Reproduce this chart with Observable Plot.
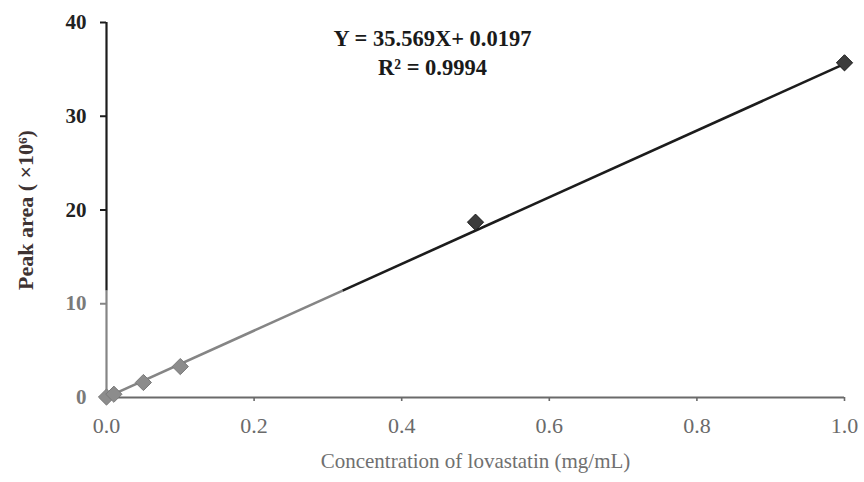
<!DOCTYPE html>
<html>
<head>
<meta charset="utf-8">
<script src="https://cdn.jsdelivr.net/npm/d3@7"></script>
<script src="https://cdn.jsdelivr.net/npm/@observablehq/plot@0.6"></script>
<style>
  html, body { margin: 0; padding: 0; background: #fff; }
</style>
</head>
<body>
<div id="chart"></div>
<script>
// Calibration data
const concentration = [0, 0.01, 0.05, 0.1, 0.5, 1.0];
const peakArea = [0.05, 0.35, 1.6, 3.3, 18.7, 35.7];

// Fitted line from the printed equation
const slope = 35.569;
const intercept = 0.0197;
const rSquared = 0.9994;

const xTicks = [0, 0.2, 0.4, 0.6, 0.8, 1.0];
const yTicks = [0, 10, 20, 30, 40];

// scan tone: lower band of the page is printed lighter
const toneBreak = 11.4;
const dark = "#1c1c1c";
const light = "#858585";

const points = concentration.map((c, i) => ({x: c, y: peakArea[i]}));
const xBreak = (toneBreak - intercept) / slope;
const fit = [
  {x1: 0, x2: xBreak, c: light},
  {x1: xBreak, x2: 1.0, c: dark}
].map(s => ({...s, y1: slope * s.x1 + intercept, y2: slope * s.x2 + intercept}));

const chart = Plot.plot({
  width: 864,
  height: 482,
  marginLeft: 106,
  marginRight: 20,
  marginTop: 22,
  marginBottom: 85,
  style: {fontFamily: "'Liberation Serif', serif", background: "#fff"},
  x: {type: "linear", domain: [0, 1], axis: null},
  y: {type: "linear", domain: [0, 40], axis: null},
  marks: [
    // y axis line
    Plot.ruleX([{y1: 0, y2: toneBreak, c: light}, {y1: toneBreak, y2: 40, c: dark}],
      {x: () => 0, y1: "y1", y2: "y2", stroke: "c", strokeWidth: 2.2}),
    // y ticks
    Plot.axisY(yTicks.filter(d => d >= toneBreak), {tickSize: 6, tickFormat: () => "", stroke: dark, strokeWidth: 2, label: null}),
    Plot.axisY(yTicks.filter(d => d < toneBreak), {tickSize: 6, tickFormat: () => "", stroke: light, strokeWidth: 2, label: null}),
    // x axis line
    Plot.ruleY([0], {stroke: "#6a6a6a", strokeWidth: 2.2}),
    // x ticks
    Plot.axisX(xTicks, {tickSize: 4, tickFormat: () => "", stroke: "#6a6a6a", strokeWidth: 1.6, label: null}),
    // y tick labels
    Plot.text(yTicks, {x: () => 0, y: d => d, text: d => String(d), textAnchor: "end", dx: -20,
      fill: d => (d >= toneBreak ? "#222" : "#7a7a7a"), fontSize: 21, fontWeight: "bold"}),
    // x tick labels
    Plot.text(xTicks, {x: d => d, y: () => 0, text: d => d.toFixed(1), dy: 28,
      fill: "#6a6a6a", fontSize: 22}),
    // fitted line
    Plot.link(fit, {x1: "x1", y1: "y1", x2: "x2", y2: "y2", stroke: "c", strokeWidth: 2.6}),
    // data points
    Plot.dot(points, {x: "x", y: "y", symbol: "diamond2", r: 7.3,
      fill: d => (d.y >= toneBreak ? "#3c3c3c" : "#8c8c8c"),
      stroke: d => (d.y >= toneBreak ? "#1a1a1a" : "#7a7a7a"), strokeWidth: 1}),
    // equation
    Plot.text([`Y = ${slope}X+ ${intercept}\nR² = ${rSquared}`], {
      frameAnchor: "top", dx: -43, dy: 28.5, lineAnchor: "middle", lineHeight: 1.29,
      text: d => d, fontSize: 22.5, fontWeight: "bold", fill: "#1a1a1a"}),
    // y label
    Plot.text(["Peak area ( ×10⁶)"], {frameAnchor: "left", dx: -81, rotate: -90, textAnchor: "middle",
      text: d => d, fontSize: 22, fontWeight: "bold", fill: "#3e3333"}),
    // x label
    Plot.text(["Concentration of lovastatin (mg/mL)"], {frameAnchor: "bottom", dy: 70,
      text: d => d, fontSize: 21, fill: "#707070"})
  ]
});
document.getElementById("chart").append(chart);
</script>
</body>
</html>
